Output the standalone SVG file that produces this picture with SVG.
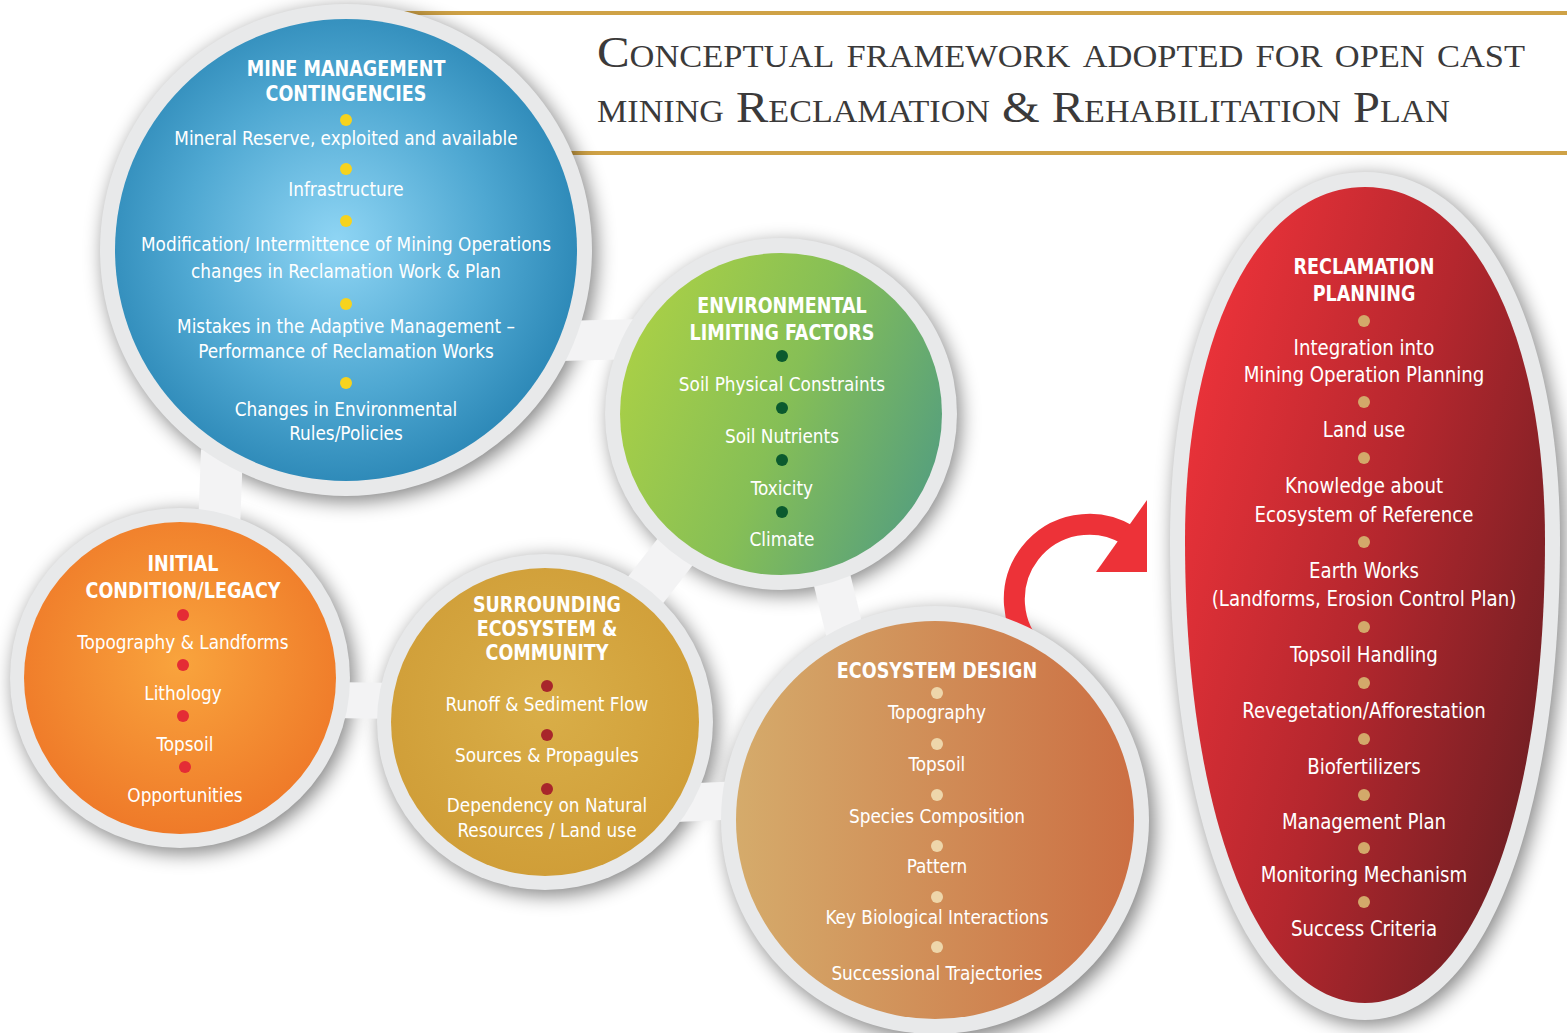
<svg xmlns="http://www.w3.org/2000/svg" width="1567" height="1033" viewBox="0 0 1567 1033">
<style>
.h{font-family:"Liberation Sans Narrow","DejaVu Sans Condensed","Roboto Condensed","Liberation Sans",sans-serif;font-weight:bold;font-size:21px;fill:#fff;text-anchor:middle;transform-box:fill-box;transform-origin:center;transform:scaleX(0.93)}
.t{font-family:"Liberation Sans Narrow","DejaVu Sans Condensed","Roboto Condensed","Liberation Sans",sans-serif;font-size:20px;fill:#fff;text-anchor:middle;transform-box:fill-box;transform-origin:center;transform:scaleX(0.94)}
.tr{font-size:21.5px}
.ring{fill:#e8e9ea}
.shadow{fill:#000;opacity:0.5;filter:url(#blur)}
.band{stroke:#f3f3f4;fill:none}
.title{font-family:"Liberation Serif","DejaVu Serif",serif;font-variant:small-caps;font-size:44px;fill:#3b3a3a}
.gold{stroke:#cfa246;stroke-width:4}
</style>
<defs>
<filter id="blur" x="-20%" y="-20%" width="140%" height="140%"><feGaussianBlur stdDeviation="10"/></filter>
<radialGradient id="gBlue" cx="0.48" cy="0.48" r="0.55"><stop offset="0" stop-color="#8fd5f4"/><stop offset="0.6" stop-color="#4fa8d2"/><stop offset="1" stop-color="#2a86b5"/></radialGradient>
<linearGradient id="gGreen" x1="0" y1="0.3" x2="1" y2="0.7"><stop offset="0" stop-color="#aad046"/><stop offset="0.5" stop-color="#86bf56"/><stop offset="1" stop-color="#559f7e"/></linearGradient>
<radialGradient id="gOrange" cx="0.5" cy="0.45" r="0.55"><stop offset="0" stop-color="#f9a43d"/><stop offset="1" stop-color="#ef7a29"/></radialGradient>
<radialGradient id="gGold" cx="0.5" cy="0.45" r="0.55"><stop offset="0" stop-color="#d9ae48"/><stop offset="1" stop-color="#d09e38"/></radialGradient>
<linearGradient id="gEco" x1="0" y1="0" x2="1" y2="0"><stop offset="0" stop-color="#d5ab6b"/><stop offset="1" stop-color="#cc6f43"/></linearGradient>
<linearGradient id="gRed" x1="0" y1="0.2" x2="1" y2="0.8"><stop offset="0" stop-color="#ee333a"/><stop offset="0.5" stop-color="#b5272e"/><stop offset="1" stop-color="#6b1e22"/></linearGradient>
</defs>
<rect width="1567" height="1033" fill="#fff"/>

<g id="title">
<line class="gold" x1="385" y1="13" x2="1567" y2="13"/>
<line class="gold" x1="560" y1="153" x2="1567" y2="153"/>
<text class="title" x="597" y="67" textLength="928" lengthAdjust="spacingAndGlyphs">Conceptual framework adopted for open cast</text>
<text class="title" x="597" y="122" textLength="853" lengthAdjust="spacingAndGlyphs">mining Reclamation &amp; Rehabilitation Plan</text>
</g>

<g id="shadows">
<circle class="shadow" cx="350" cy="255" r="246"/>
<circle class="shadow" cx="785" cy="419" r="175"/>
<circle class="shadow" cx="184" cy="683" r="170"/>
<circle class="shadow" cx="549" cy="727" r="168"/>
<circle class="shadow" cx="940" cy="826" r="214"/>
<path class="shadow" d="M 1369 177 C 1484 177 1564 325 1564 545 C 1564 835 1484 1025 1369 1025 C 1254 1025 1174 835 1174 545 C 1174 325 1254 177 1369 177 Z"/>
</g>

<g id="connectors">
<line class="band" stroke-width="40" x1="560" y1="341" x2="640" y2="339"/>
<line class="band" stroke-width="42" x1="222" y1="450" x2="219" y2="530"/>
<line class="band" stroke-width="36" x1="325" y1="700" x2="405" y2="701"/>
<line class="band" stroke-width="44" x1="700" y1="520" x2="630" y2="610"/>
<line class="band" stroke-width="38" x1="826" y1="555" x2="848" y2="645"/>
<line class="band" stroke-width="38" x1="675" y1="803" x2="745" y2="800"/>
<g id="arrow" fill="#ed3238">
<path d="M 1037 653 A 75 75 0 0 1 1128 535" fill="none" stroke="#ed3238" stroke-width="21"/>
<polygon points="1147,500 1096,572 1147,572"/>
</g>
</g>

<g id="node-mine">
<circle class="ring" cx="346" cy="250" r="246"/>
<circle cx="346" cy="250" r="231" fill="url(#gBlue)"/>
<text class="h" x="346" y="76">MINE MANAGEMENT</text>
<text class="h" x="346" y="101">CONTINGENCIES</text>
<g fill="#f6d31e"><circle cx="346" cy="120" r="6"/><circle cx="346" cy="169" r="6"/><circle cx="346" cy="221" r="6"/><circle cx="346" cy="304" r="6"/><circle cx="346" cy="383" r="6"/></g>
<text class="t" x="346" y="145">Mineral Reserve, exploited and available</text>
<text class="t" x="346" y="196">Infrastructure</text>
<text class="t" x="346" y="251">Modification/ Intermittence of Mining Operations</text>
<text class="t" x="346" y="278">changes in Reclamation Work &amp; Plan</text>
<text class="t" x="346" y="333">Mistakes in the Adaptive Management –</text>
<text class="t" x="346" y="358">Performance of Reclamation Works</text>
<text class="t" x="346" y="416">Changes in Environmental</text>
<text class="t" x="346" y="440">Rules/Policies</text>
</g>

<g id="node-env">
<circle class="ring" cx="781" cy="414" r="176"/>
<circle cx="781" cy="414" r="161" fill="url(#gGreen)"/>
<text class="h" x="782" y="313">ENVIRONMENTAL</text>
<text class="h" x="782" y="340">LIMITING FACTORS</text>
<g fill="#0b5a2e"><circle cx="782" cy="356" r="6"/><circle cx="782" cy="408" r="6"/><circle cx="782" cy="460" r="6"/><circle cx="782" cy="512" r="6"/></g>
<text class="t" x="782" y="391">Soil Physical Constraints</text>
<text class="t" x="782" y="443">Soil Nutrients</text>
<text class="t" x="782" y="495">Toxicity</text>
<text class="t" x="782" y="546">Climate</text>
</g>

<g id="node-initial">
<circle class="ring" cx="180" cy="678" r="170"/>
<circle cx="180" cy="678" r="156" fill="url(#gOrange)"/>
<text class="h" x="183" y="571">INITIAL</text>
<text class="h" x="183" y="598">CONDITION/LEGACY</text>
<g fill="#e42c35"><circle cx="183" cy="615" r="6"/><circle cx="183" cy="665" r="6"/><circle cx="183" cy="716" r="6"/><circle cx="185" cy="767" r="6"/></g>
<text class="t" x="183" y="649">Topography &amp; Landforms</text>
<text class="t" x="183" y="700">Lithology</text>
<text class="t" x="185" y="751">Topsoil</text>
<text class="t" x="185" y="802">Opportunities</text>
</g>

<g id="node-surrounding">
<circle class="ring" cx="545" cy="722" r="168"/>
<circle cx="545" cy="722" r="154" fill="url(#gGold)"/>
<text class="h" x="547" y="612">SURROUNDING</text>
<text class="h" x="547" y="636">ECOSYSTEM &amp;</text>
<text class="h" x="547" y="660">COMMUNITY</text>
<g fill="#a8262b"><circle cx="547" cy="686" r="6"/><circle cx="547" cy="735" r="6"/><circle cx="547" cy="789" r="6"/></g>
<text class="t" x="547" y="711">Runoff &amp; Sediment Flow</text>
<text class="t" x="547" y="762">Sources &amp; Propagules</text>
<text class="t" x="547" y="812">Dependency on Natural</text>
<text class="t" x="547" y="837">Resources / Land use</text>
</g>

<g id="node-design">
<circle class="ring" cx="935" cy="820" r="214"/>
<circle cx="935" cy="820" r="199" fill="url(#gEco)"/>
<text class="h" x="937" y="678">ECOSYSTEM DESIGN</text>
<g fill="#eed6aa"><circle cx="937" cy="693" r="6"/><circle cx="937" cy="744" r="6"/><circle cx="937" cy="795" r="6"/><circle cx="937" cy="846" r="6"/><circle cx="937" cy="897" r="6"/><circle cx="937" cy="947" r="6"/></g>
<text class="t" x="937" y="719">Topography</text>
<text class="t" x="937" y="771">Topsoil</text>
<text class="t" x="937" y="823">Species Composition</text>
<text class="t" x="937" y="873">Pattern</text>
<text class="t" x="937" y="924">Key Biological Interactions</text>
<text class="t" x="937" y="980">Successional Trajectories</text>
</g>

<g id="node-reclamation">
<path class="ring" d="M 1365 172 C 1480 172 1560 320 1560 540 C 1560 830 1480 1020 1365 1020 C 1250 1020 1170 830 1170 540 C 1170 320 1250 172 1365 172 Z"/>
<path fill="url(#gRed)" d="M 1365 187 C 1470 187 1545 330 1545 540 C 1545 820 1470 1003 1365 1003 C 1260 1003 1185 820 1185 540 C 1185 330 1260 187 1365 187 Z"/>
<text class="h" x="1364" y="274">RECLAMATION</text>
<text class="h" x="1364" y="301">PLANNING</text>
<g fill="#d3a96a"><circle cx="1364" cy="321" r="6"/><circle cx="1364" cy="402" r="6"/><circle cx="1364" cy="458" r="6"/><circle cx="1364" cy="542" r="6"/><circle cx="1364" cy="627" r="6"/><circle cx="1364" cy="683" r="6"/><circle cx="1364" cy="739" r="6"/><circle cx="1364" cy="795" r="6"/><circle cx="1364" cy="848" r="6"/><circle cx="1364" cy="902" r="6"/></g>
<text class="t tr" x="1364" y="355">Integration into</text>
<text class="t tr" x="1364" y="382">Mining Operation Planning</text>
<text class="t tr" x="1364" y="437">Land use</text>
<text class="t tr" x="1364" y="493">Knowledge about</text>
<text class="t tr" x="1364" y="522">Ecosystem of Reference</text>
<text class="t tr" x="1364" y="578">Earth Works</text>
<text class="t tr" x="1364" y="606">(Landforms, Erosion Control Plan)</text>
<text class="t tr" x="1364" y="662">Topsoil Handling</text>
<text class="t tr" x="1364" y="718">Revegetation/Afforestation</text>
<text class="t tr" x="1364" y="774">Biofertilizers</text>
<text class="t tr" x="1364" y="829">Management Plan</text>
<text class="t tr" x="1364" y="882">Monitoring Mechanism</text>
<text class="t tr" x="1364" y="936">Success Criteria</text>
</g>
</svg>
